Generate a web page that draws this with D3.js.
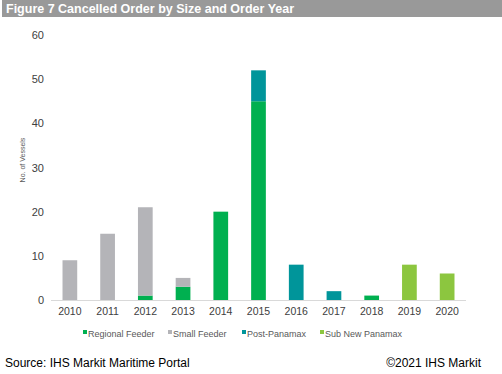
<!DOCTYPE html>
<html><head><meta charset="utf-8">
<script src="https://cdn.jsdelivr.net/npm/d3@7"></script>
<style>body{margin:0;background:#fff;}svg{display:block;font-family:Arial,"Liberation Sans",sans-serif;}</style>
</head><body>
<svg id="c" width="502" height="374"></svg>
<script>
const years = ["2010","2011","2012","2013","2014","2015","2016","2017","2018","2019","2020"];
const seriesNames = ["Regional Feeder","Small Feeder","Post-Panamax","Sub New Panamax"];
const regionalFeeder = [0,0,1,3,20,45,0,0,1,0,0];
const smallFeeder    = [9,15,20,2,0,0,0,0,0,0,0];
const postPanamax    = [0,0,0,0,0,7,8,2,0,0,0];
const subNewPanamax  = [0,0,0,0,0,0,0,0,0,8,6];
const yTicks = [0,10,20,30,40,50,60];
const colors = ["#00b050","#b4b4b8","#00959a","#8cc63f"];

const svg = d3.select("#c");
// title bar
svg.append("rect").attr("x",2).attr("y",0).attr("width",500).attr("height",17).attr("fill","#999999");
svg.append("text").attr("x",6).attr("y",13).attr("fill","#fff").attr("font-weight","bold").attr("font-size",12.5).text("Figure 7 Cancelled Order by Size and Order Year");

const x = d3.scaleBand().domain(years).range([51,466]).paddingInner(0.61).paddingOuter(0.305);
const y = d3.scaleLinear().domain([0,60]).range([300,35]);

const table = years.map((yr,i)=>({year:yr,"Regional Feeder":regionalFeeder[i],"Small Feeder":smallFeeder[i],"Post-Panamax":postPanamax[i],"Sub New Panamax":subNewPanamax[i]}));
const stack = d3.stack().keys(seriesNames)(table);

svg.append("g").selectAll("g").data(stack).join("g").attr("fill",(d,i)=>colors[i])
  .selectAll("rect").data(d=>d).join("rect")
  .attr("x",d=>x(d.data.year)).attr("width",x.bandwidth())
  .attr("y",d=>y(d[1])).attr("height",d=>y(d[0])-y(d[1]));

// baseline
svg.append("line").attr("x1",51).attr("x2",466).attr("y1",y(0)+0.5).attr("y2",y(0)+0.5).attr("stroke","#d9d9d9");

// y axis
const ya = svg.append("g").attr("transform","translate(44,0)").call(d3.axisLeft(y).tickValues(yTicks).tickSize(0).tickPadding(0));
ya.select(".domain").remove();
ya.selectAll("text").attr("font-size",11).attr("fill","#404040").attr("font-family","Arial,'Liberation Sans',sans-serif");

// x axis
const xa = svg.append("g").attr("transform","translate(0,"+(y(0)+4)+")").call(d3.axisBottom(x).tickSize(0).tickPadding(4));
xa.select(".domain").remove();
xa.selectAll("text").attr("font-size",10.5).attr("fill","#404040").attr("font-family","Arial,'Liberation Sans',sans-serif");

// y label
svg.append("text").attr("transform","translate(24.5,160) rotate(-90)").attr("text-anchor","middle").attr("font-size",7).attr("fill","#595959").text("No. of Vessels");

// legend
const legX = [83,168,242,320];
const leg = svg.append("g").selectAll("g").data(seriesNames).join("g").attr("transform",(d,i)=>`translate(${legX[i]},333)`);
leg.append("rect").attr("x",0).attr("y",-3).attr("width",4).attr("height",4).attr("fill",(d,i)=>colors[i]);
leg.append("text").attr("x",5).attr("y",1).attr("dy","0.35em").attr("font-size",9).attr("fill","#595959").text(d=>d);

// footer
svg.append("text").attr("x",5).attr("y",367).attr("font-size",12).attr("fill","#000").text("Source: IHS Markit Maritime Portal");
svg.append("text").attr("x",481).attr("y",367).attr("text-anchor","end").attr("font-size",12).attr("fill","#000").text("©2021 IHS Markit");
</script>
</body></html>
